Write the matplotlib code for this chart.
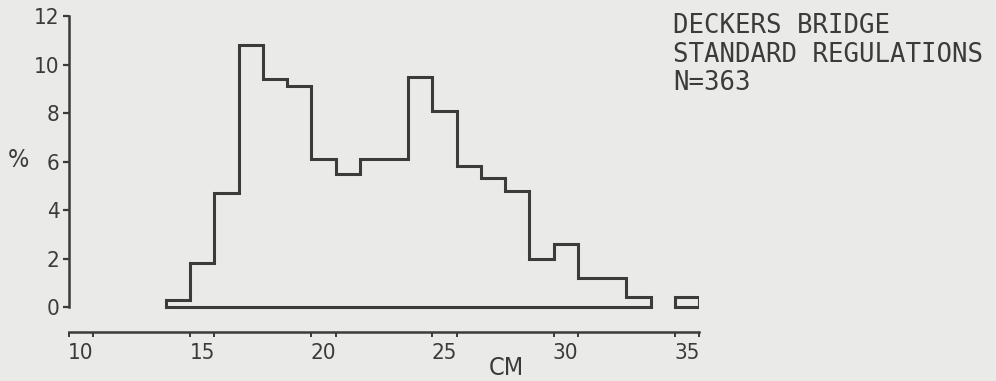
import numpy as np
import matplotlib
matplotlib.use("Agg")
import matplotlib.pyplot as plt

# Length-frequency distribution (1-cm classes, labelled by class midpoint)
length_cm = [14, 15, 16, 17, 18, 19, 20, 21, 22, 23, 24, 25,
             26, 27, 28, 29, 30, 31, 32, 33, 34, 35]
percent = [0.3, 1.8, 4.7, 10.8, 9.4, 9.1, 6.1, 5.5, 6.1, 6.1, 9.5, 8.1,
           5.8, 5.3, 4.8, 2.0, 2.6, 1.2, 1.2, 0.4, 0.0, 0.4]

x_tick_labels = [10, 15, 20, 25, 30, 35]
y_ticks = [0, 2, 4, 6, 8, 10, 12]
title_lines = ["DECKERS BRIDGE", "STANDARD REGULATIONS", "N=363"]

INK = "#3b3b3b"
PAPER = "#eaeae8"
W, H = 996, 381
LABEL_FONT = dict(family="DejaVu Sans", stretch="condensed")

fig = plt.figure(figsize=(W / 100, H / 100), dpi=100, facecolor=PAPER)
ax = fig.add_axes([69 / W, 1 - 332 / H, 630 / W, 316 / H])
ax.set_facecolor(PAPER)
ax.set_xlim(9.5, 35.5)
ax.set_ylim(-1.03, 12)

# Outline each contiguous run of occupied classes as a closed step shape
centers = np.asarray(length_cm, dtype=float)
values = np.asarray(percent, dtype=float)
runs, current = [], []
for c, v in zip(centers, values):
    if v > 0:
        current.append((c, v))
    elif current:
        runs.append(current)
        current = []
if current:
    runs.append(current)

for run in runs:
    c = np.array([p[0] for p in run])
    v = np.array([p[1] for p in run])
    edges = np.append(c - 0.5, c[-1] + 0.5)
    ax.stairs(v, edges, baseline=0, color=INK, lw=2.2, joinstyle="miter")
    ax.plot([edges[0], edges[-1]], [0, 0], color=INK, lw=2.2,
            solid_capstyle="projecting")

# Axes styling
for side in ("top", "right"):
    ax.spines[side].set_visible(False)
ax.spines["left"].set_bounds(0, 12)
for side in ("left", "bottom"):
    ax.spines[side].set_color(INK)
    ax.spines[side].set_linewidth(1.8)

ax.set_yticks(y_ticks)
ax.set_yticklabels([str(t) for t in y_ticks], **LABEL_FONT)
ax.tick_params(axis="y", direction="out", length=4, width=1.6, colors=INK,
               labelsize=16, pad=3)

ax.set_xticks(x_tick_labels)
ax.set_xticklabels([str(t) for t in x_tick_labels], **LABEL_FONT)
ax.set_xticks([t + d for t in x_tick_labels for d in (-0.5, 0.5)], minor=True)
ax.tick_params(axis="x", which="major", length=0, colors=INK,
               labelsize=16, pad=8)
ax.tick_params(axis="x", which="minor", direction="out", length=3.5,
               width=1.4, colors=INK)

ax.set_ylabel("%", rotation=0, fontsize=18, color=INK,
              ha="center", va="center", **LABEL_FONT)
ax.yaxis.set_label_coords(-0.081, 0.543)
ax.set_xlabel("CM", fontsize=18, color=INK,
              ha="center", va="center", **LABEL_FONT)
ax.xaxis.set_label_coords(0.695, -0.114)

# Station / sample annotation
for i, line in enumerate(title_lines):
    fig.text(673 / W, 1 - (13 + 28.5 * i) / H, line, ha="left", va="top",
             fontsize=18.5, family="DejaVu Sans Mono", color=INK)

fig.savefig("out.png", dpi=100, facecolor=PAPER)
